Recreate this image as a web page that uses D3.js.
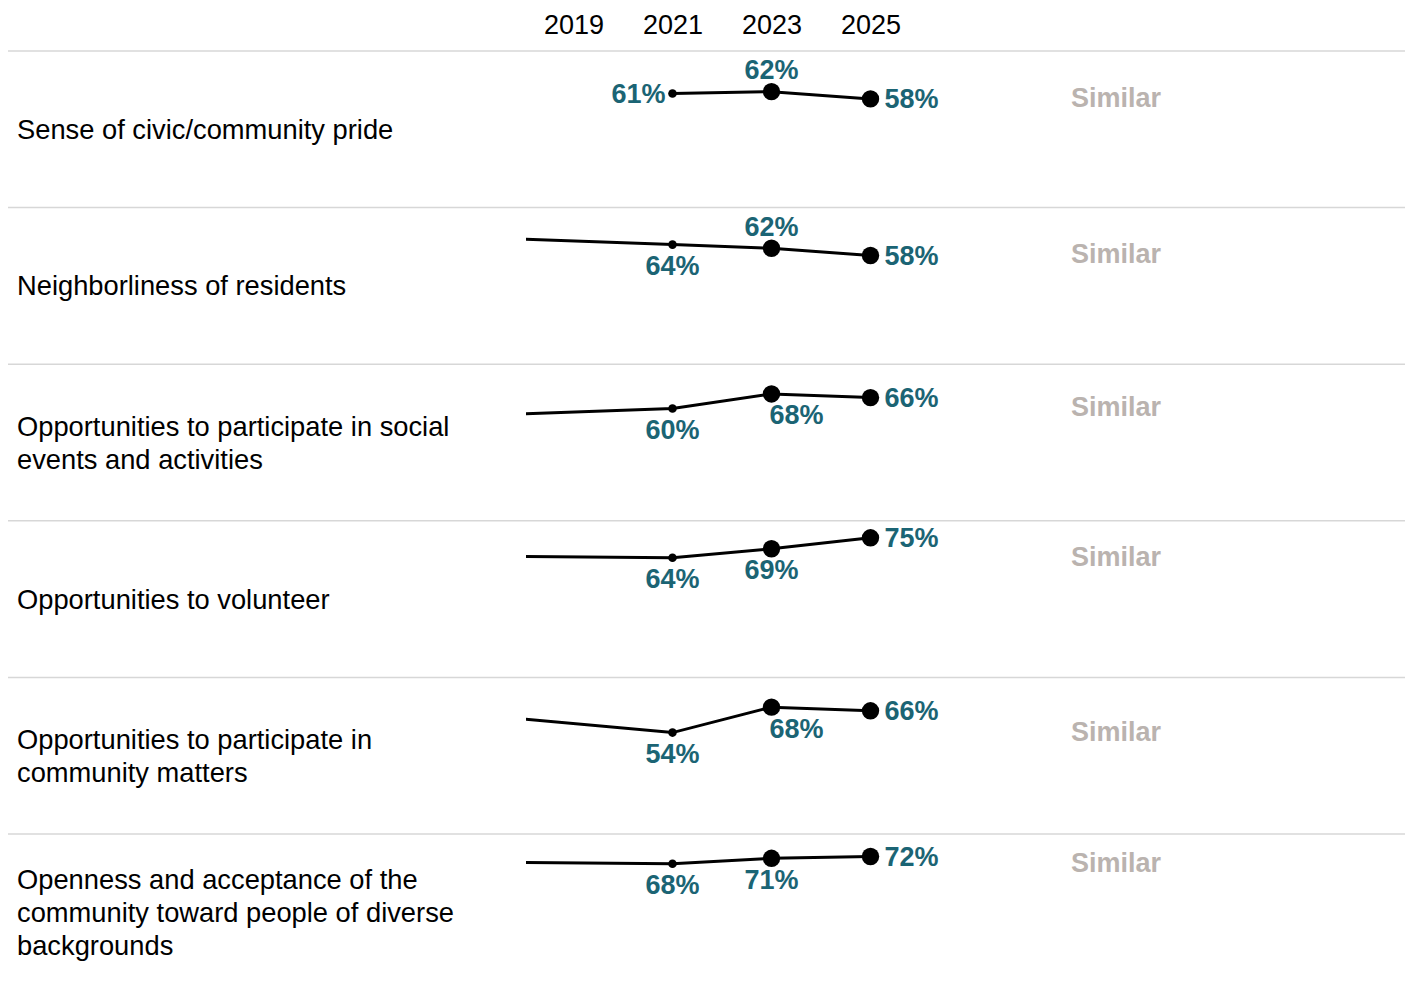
<!DOCTYPE html>
<html>
<head>
<meta charset="utf-8">
<script src="https://cdn.jsdelivr.net/npm/d3@7"></script>
<style>
  html, body { margin: 0; padding: 0; background: #fff; }
  svg { display: block; font-family: "Liberation Sans", Arial, Helvetica, sans-serif; }
</style>
</head>
<body>
<svg id="chart" width="1405" height="984"></svg>
<script>
// ---------- data ----------
const categories = [
  "Sense of civic/community pride",
  "Neighborliness of residents",
  "Opportunities to participate in social\nevents and activities",
  "Opportunities to volunteer",
  "Opportunities to participate in\ncommunity matters",
  "Openness and acceptance of the\ncommunity toward people of diverse\nbackgrounds"
];
const headerYears = [2019, 2021, 2023, 2025];
// earlier survey value (off the visible window, only its line segment shows)
const values2017 = [null, 68, 56, 65, 64, 69];
const values2021 = [61, 64, 60, 64, 54, 68];
const values2023 = [62, 62, 68, 69, 68, 71];
const values2025 = [58, 58, 66, 75, 66, 72];
const comparisons = ["Similar", "Similar", "Similar", "Similar", "Similar", "Similar"];
// label placement for each year's value label
const labelPlace2021 = ["left", "below", "below", "below", "below", "below"];
const labelPlace2023 = ["above", "above", "belowRight", "below", "belowRight", "below"];
const labelPlace2025 = ["right", "right", "right", "right", "right", "right"];

// ---------- layout ----------
const W = 1405, H = 984;
const svg = d3.select("#chart");
const teal = "#1b6474";
const grey = "#bab3af";

const x = d3.scaleLinear().domain([2019, 2025]).range([573.5, 870.5]);
const rowBand = d3.scaleBand().domain(d3.range(categories.length)).range([51, 51 + 6 * 156.6]).paddingInner(0);
const y = d3.scaleLinear().domain([0, 100]).range([153.3, -28.4]);

// header axis
const axisG = svg.append("g").attr("transform", "translate(0,34)")
  .call(d3.axisTop(x).tickValues(headerYears).tickFormat(d3.format("d")).tickSize(0).tickPadding(0));
axisG.select(".domain").remove();
axisG.selectAll("text").attr("font-size", 27).attr("fill", "#000")
  .attr("font-family", "'Liberation Sans', Arial, sans-serif").attr("dy", "0");

// clip for lines
svg.append("defs").append("clipPath").attr("id", "lineClip")
  .append("rect").attr("x", 526).attr("y", -50).attr("width", W - 526).attr("height", 300);

// separators
svg.append("g").selectAll("line").data(d3.range(categories.length)).join("line")
  .attr("x1", 8).attr("x2", W)
  .attr("y1", d => rowBand(d)).attr("y2", d => rowBand(d))
  .attr("stroke", "#d7d7d7").attr("stroke-width", 1.5);

const line = d3.line().x(d => x(d.year)).y(d => y(d.value));

categories.forEach((cat, i) => {
  const g = svg.append("g").attr("transform", `translate(0,${rowBand(i)})`);

  // category label
  const lines = cat.split("\n");
  const cy = rowBand.bandwidth() / 2;
  const lh = 33;
  const t = g.append("text").attr("x", 17).attr("font-size", 27.3).attr("fill", "#000");
  lines.forEach((ln, k) => {
    t.append("tspan").attr("x", 17)
      .attr("y", cy - (lines.length - 1) * lh / 2 + k * lh)
      .attr("dy", "0.35em").text(ln);
  });

  const pts = [
    { year: 2017, value: values2017[i], r: 0, place: null },
    { year: 2021, value: values2021[i], r: 4.3, place: labelPlace2021[i] },
    { year: 2023, value: values2023[i], r: 8.7, place: labelPlace2023[i] },
    { year: 2025, value: values2025[i], r: 8.7, place: labelPlace2025[i] }
  ].filter(p => p.value != null);

  g.append("path").datum(pts)
    .attr("clip-path", "url(#lineClip)")
    .attr("d", line).attr("fill", "none")
    .attr("stroke", "#000").attr("stroke-width", 3);

  const shown = pts.filter(p => p.r > 0);
  g.selectAll("circle").data(shown).join("circle")
    .attr("cx", d => x(d.year)).attr("cy", d => y(d.value)).attr("r", d => d.r)
    .attr("fill", "#000");

  g.selectAll("text.val").data(shown).join("text").attr("class", "val")
    .attr("font-size", 27).attr("font-weight", "bold").attr("fill", teal)
    .attr("dy", "0.35em")
    .attr("x", d => {
      const px = x(d.year);
      if (d.place === "right") return px + 14;
      if (d.place === "left") return px - 7;
      if (d.place === "belowRight") return px - 2;
      return px;
    })
    .attr("y", d => {
      const py = y(d.value);
      if (d.place === "above") return py - 22;
      if (d.place === "below" || d.place === "belowRight") return py + 21;
      return py;
    })
    .attr("text-anchor", d => d.place === "right" || d.place === "belowRight" ? "start" : d.place === "left" ? "end" : "middle")
    .text(d => d.value + "%");

  // comparison label
  const minV = d3.min(shown, d => d.value);
  g.append("text").attr("x", 1071).attr("y", y(minV) - 1.5).attr("dy", "0.35em")
    .attr("font-size", 27).attr("font-weight", "bold").attr("fill", grey)
    .text(comparisons[i]);
});
</script>
</body>
</html>
